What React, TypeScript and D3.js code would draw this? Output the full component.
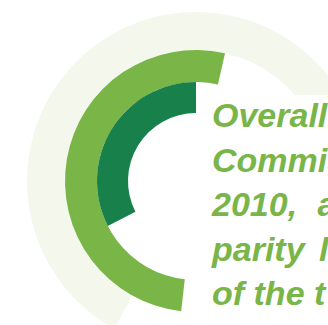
import React from "react";
import * as d3 from "d3";

// Ring data (angles in degrees, 0 = top, clockwise)
const ringNames = ["track", "outer", "inner"];
const ringStartDeg = [209, 186.5, 243];
const ringEndDeg = [510, 372.8, 360];
const ringInnerR = [131, 99, 68];
const ringOuterR = [169, 131, 99];
const ringColors = ["#f4f8ec", "#7ab547", "#18804b"];

const textLines = ["Overall", "Commission", "2010, a", "parity l", "of the t"];
const lineWordSpacing = [0, 0, 11, 5, 0];

export default function App() {
  const W = 328;
  const H = 325;
  const cx = 196;
  const cy = 181;
  const toRad = d3.scaleLinear().domain([0, 360]).range([0, 2 * Math.PI]);
  const arc = d3.arc<any>();

  return (
    <svg
      width={W}
      height={H}
      style={{ position: "fixed", left: 0, top: 0, background: "#fff" }}
    >
      <g transform={`translate(${cx},${cy})`}>
        {ringNames.map((n, i) => (
          <path
            key={n}
            d={
              arc({
                innerRadius: ringInnerR[i],
                outerRadius: ringOuterR[i],
                startAngle: toRad(ringStartDeg[i]),
                endAngle: toRad(ringEndDeg[i]),
              }) as string
            }
            fill={ringColors[i]}
          />
        ))}
      </g>
      <rect x={205} y={95} width={140} height={250} fill="#ffffff" />
      <g
        fontFamily="'Liberation Sans', Arial, sans-serif"
        fontWeight={700}
        fontStyle="italic"
        fontSize={34}
        fill="#79b549"
      >
        {textLines.map((t, i) => (
          <text
            key={i}
            x={212}
            y={127 + i * 44.5}
            wordSpacing={lineWordSpacing[i]}
          >
            {t}
          </text>
        ))}
      </g>
    </svg>
  );
}
